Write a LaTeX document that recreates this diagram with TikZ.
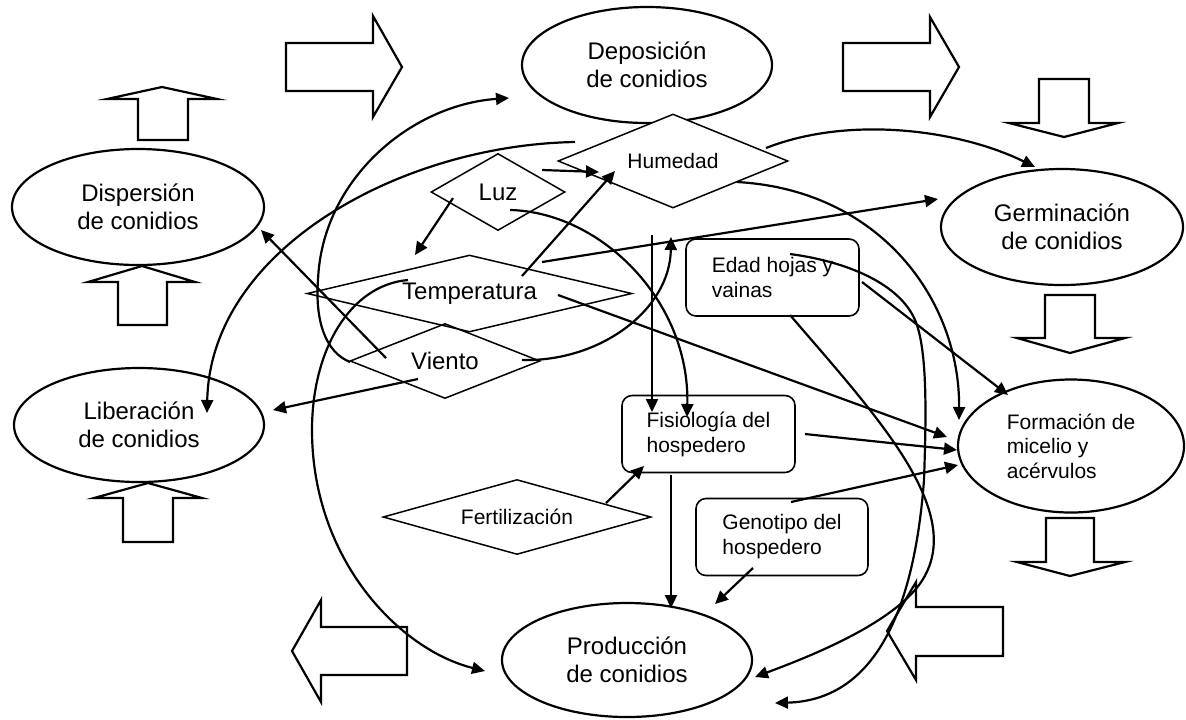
\documentclass[tikz,border=0pt]{standalone}
\usepackage{fontspec}
\setmainfont{Liberation Sans}
\usetikzlibrary{arrows.meta,shapes.geometric}
\begin{document}
\begin{tikzpicture}[x=0.5pt,y=-0.5pt,
  ell/.style={draw,line width=1.1pt,ellipse,inner sep=0pt,align=center,font=\fontsize{12}{13.8}\selectfont},
  dia/.style={draw,line width=0.75pt,diamond,inner sep=0pt},
  bigtxt/.style={font=\fontsize{12}{13.8}\selectfont},
  smalltxt/.style={font=\fontsize{10.5}{12.5}\selectfont},
  hbox/.style={draw,line width=0.8pt,rounded corners=5pt,inner sep=0pt,align=left,font=\fontsize{10.5}{12.5}\selectfont,minimum width=86.5pt,minimum height=38.5pt},
  con/.style={line width=1.1pt,-{Triangle[length=6.5pt,width=6pt]}},
  blk/.style={line width=1.1pt,line join=miter}
]
\useasboundingbox (0,0) rectangle (1186,719);

% ellipses
\node[ell,minimum width=125pt,minimum height=58pt] (dep) at (647,65) {Deposición\\de conidios};
\node[ell,minimum width=126pt,minimum height=58pt] (disp) at (138,207) {Dispersión\\de conidios};
\node[ell,minimum width=125pt,minimum height=57pt] (lib) at (139,425) {Liberación\\de conidios};
\node[ell,minimum width=121pt,minimum height=58pt] (germ) at (1062,227) {Germinación\\de conidios};
\node[ell,minimum width=113pt,minimum height=66.5pt,align=left,font=\fontsize{10.5}{12.2}\selectfont] (form) at (1071,446) {Formación de\\micelio y\\acérvulos};
\node[ell,minimum width=125pt,minimum height=57pt] (prod) at (627,660) {Producción\\de conidios};

% diamonds
\node[dia,fill=white,smalltxt,minimum width=115pt,minimum height=47pt,aspect=2.45] (hum) at (673,161) {Humedad};
\node[dia,bigtxt,minimum width=67pt,minimum height=38.5pt,aspect=1.74] (luz) at (498,192) {Luz};
\node[dia,bigtxt,minimum width=162.5pt,minimum height=38.5pt,aspect=4.2] (temp) at (469.5,293.5) {Temperatura};
\node[dia,bigtxt,minimum width=95pt,minimum height=37.5pt,aspect=2.53] (viento) at (445,361) {Viento};
\node[dia,smalltxt,minimum width=134pt,minimum height=37.5pt,aspect=3.57] (fert) at (517,517) {Fertilización};

% rounded boxes
\node[hbox] (edad) at (772.5,277.5) {Edad hojas y\\vainas};
\node[hbox] (fis) at (708.5,434) {Fisiología del\\hospedero};
\node[hbox,minimum width=86pt] (gen) at (782,537) {Genotipo del\\hospedero};

% block arrows
\draw[blk] (138,140) -- (138,99) -- (107,99) -- (162,87) -- (217,99) -- (188,99) -- (188,140) -- cycle;
\draw[blk] (118,325) -- (118,282) -- (88,282) -- (142,266) -- (195,282) -- (167,282) -- (167,325) -- cycle;
\draw[blk] (123,542) -- (123,498) -- (94,498) -- (148,483) -- (202,498) -- (173,498) -- (173,542) -- cycle;
\draw[blk] (286,43) -- (373,43) -- (373,16) -- (402,67) -- (373,117) -- (373,91) -- (286,91) -- cycle;
\draw[blk] (843,43) -- (930,43) -- (930,17) -- (959,67) -- (930,117) -- (930,91) -- (843,91) -- cycle;
\draw[blk] (1039,79) -- (1089,79) -- (1089,123) -- (1118,123) -- (1064,137) -- (1009,123) -- (1039,123) -- cycle;
\draw[blk] (1045,295) -- (1095,295) -- (1095,338) -- (1125,338) -- (1070,353) -- (1017,338) -- (1045,338) -- cycle;
\draw[blk] (1046,518) -- (1094,518) -- (1094,562) -- (1125,562) -- (1070,576) -- (1017,562) -- (1046,562) -- cycle;
\draw[blk] (407,627) -- (321,627) -- (321,600) -- (292,651) -- (321,702) -- (321,675) -- (407,675) -- cycle;
\draw[blk] (1003,607) -- (916,607) -- (916,582) -- (887,631) -- (916,680) -- (916,656) -- (1003,656) -- cycle;

% connector end points
\coordinate (vientoW) at (350,362);
\coordinate (depIn) at (509,98);
\coordinate (humL) at (575,142);
\coordinate (libIn) at (207,413);
\coordinate (luzR) at (542,170);
\coordinate (humIn1) at (599,172);
\coordinate (tempA) at (522,276);
\coordinate (humIn2) at (615,171);
\coordinate (luzB) at (453,198);
\coordinate (tempIn) at (415,255);
\coordinate (vientoA) at (386,358);
\coordinate (dispIn) at (261,230);
\coordinate (vientoB) at (418,379);
\coordinate (libIn2) at (273,410);
\coordinate (vientoR) at (522,360);
\coordinate (humIn3) at (671,237);
\coordinate (tempB) at (408,280);
\coordinate (prodIn1) at (485,671);
\coordinate (tempC) at (542,262);
\coordinate (germIn1) at (938,199);
\coordinate (humR) at (766,148);
\coordinate (germIn2) at (1035,167);
\coordinate (humB) at (737,182);
\coordinate (formIn1) at (959,420);
\coordinate (luzC) at (510,210);
\coordinate (fisIn1) at (687,417);
\coordinate (humD) at (652,235);
\coordinate (fisIn2) at (652,412);
\coordinate (tempD) at (558,295);
\coordinate (formIn2) at (947,437);
\coordinate (fisR) at (805,434);
\coordinate (formIn3) at (957,450);
\coordinate (genT) at (791,502);
\coordinate (formIn4) at (958,465);
\coordinate (fertR) at (606,503);
\coordinate (fisIn3) at (644,466);
\coordinate (fisB) at (671,475);
\coordinate (prodIn2) at (671,608);
\coordinate (genB) at (753,568);
\coordinate (prodIn3) at (715,604);
\coordinate (edadR) at (862,282);
\coordinate (formIn5) at (1008,395);
\coordinate (edadB) at (790,315);
\coordinate (prodIn4) at (755,677);
\coordinate (edadT) at (790,254);
\coordinate (prodIn5) at (775,703);

% connectors
\draw[con] (vientoW) .. controls (325,352) and (315,320) .. (318,280) .. controls (322,180) and (410,105) .. (depIn);
\draw[con] (humL) .. controls (400,145) and (210,250) .. (libIn);
\draw[con] (luzR) -- (humIn1);
\draw[con] (tempA) -- (humIn2);
\draw[con] (luzB) -- (tempIn);
\draw[con] (vientoA) -- (dispIn);
\draw[con] (vientoB) -- (libIn2);
\draw[con] (vientoR) .. controls (600,362) and (670,310) .. (humIn3);
\draw[con] (tempB) .. controls (350,285) and (312,350) .. (312,430) .. controls (312,560) and (400,650) .. (prodIn1);
\draw[con] (tempC) -- (germIn1);
\draw[con] (humR) .. controls (850,115) and (960,130) .. (germIn2);
\draw[con] (humB) .. controls (880,190) and (960,300) .. (formIn1);
\draw[con] (luzC) .. controls (600,212) and (690,300) .. (fisIn1);
\draw[con] (humD) -- (fisIn2);
\draw[con] (tempD) -- (formIn2);
\draw[con] (fisR) -- (formIn3);
\draw[con] (genT) -- (formIn4);
\draw[con] (fertR) -- (fisIn3);
\draw[con] (fisB) -- (prodIn2);
\draw[con] (genB) -- (prodIn3);
\draw[con] (edadR) -- (formIn5);
\draw[con] (edadB) .. controls (880,420) and (975,520) .. (915,590) .. controls (880,630) and (800,660) .. (prodIn4);
\draw[con] (edadT) .. controls (850,262) and (900,285) .. (915,320) .. controls (928,350) and (926,420) .. (924,480) .. controls (915,600) and (880,700) .. (prodIn5);
\end{tikzpicture}
\end{document}
